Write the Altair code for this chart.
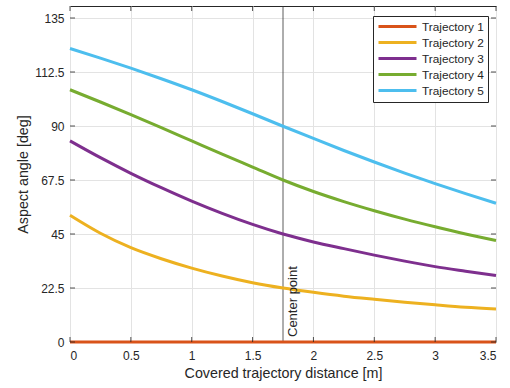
import altair as alt
import pandas as pd

# Covered distance along each trajectory [m]
distance = [0, 0.25, 0.5, 0.75, 1.0, 1.25, 1.5, 1.75, 2.0, 2.25, 2.5, 2.75, 3.0, 3.25, 3.5]

# Aspect angle [deg] for each trajectory
traj1 = [0, 0, 0, 0, 0, 0, 0, 0, 0, 0, 0, 0, 0, 0, 0]
traj2 = [52.8, 45.3, 39.3, 34.7, 30.8, 27.5, 24.7, 22.5, 20.7, 19.1, 17.8, 16.6, 15.5, 14.5, 13.8]
traj3 = [83.8, 76.8, 70.3, 64.3, 58.7, 53.6, 49.0, 45.0, 41.7, 38.9, 36.2, 33.7, 31.4, 29.5, 27.7]
traj4 = [105.1, 100.0, 94.7, 89.3, 83.8, 78.3, 72.9, 67.5, 62.7, 58.5, 54.7, 51.2, 48.0, 45.0, 42.3]
traj5 = [122.3, 118.3, 114.1, 109.7, 105.1, 100.2, 95.1, 89.9, 84.8, 79.8, 75.0, 70.4, 66.0, 61.8, 57.8]

names = ["Trajectory 1", "Trajectory 2", "Trajectory 3", "Trajectory 4", "Trajectory 5"]
colors = ["#D95319", "#EDB120", "#7E2F8E", "#77AC30", "#4DBEEE"]

x_ticks = [0, 0.5, 1, 1.5, 2, 2.5, 3, 3.5]
y_ticks = [0, 22.5, 45, 67.5, 90, 112.5, 135]

center_x = 1.75
center_label = "Center point"

W, H = 426, 336
FONT = "Liberation Sans"
INK = "#262626"

rows = []
for k, (name, series) in enumerate(zip(names, [traj1, traj2, traj3, traj4, traj5])):
    for d, a in zip(distance, series):
        rows.append({"x": d, "angle": a, "traj": name, "order": k})
df = pd.DataFrame(rows)

x_scale = alt.Scale(domain=[0, 3.5], nice=False, zero=False)
y_scale = alt.Scale(domain=[0, 140], nice=False, zero=False)

x_axis = alt.Axis(
    title="Covered trajectory distance [m]", values=x_ticks, labelExpr="'' + datum.value",
    grid=True, ticks=False, domain=False, labelPadding=8, titlePadding=5,
    titleFontWeight="normal",
)
y_axis = alt.Axis(
    title="Aspect angle [deg]", values=y_ticks, labelExpr="'' + datum.value",
    grid=True, ticks=False, domain=False, labelPadding=6, titlePadding=4,
    titleFontWeight="normal",
)

center_df = pd.DataFrame({"x": [center_x], "label": [center_label]})

center_line = alt.Chart(center_df).mark_rule(color="#333333", strokeWidth=0.8).encode(
    x=alt.X("x:Q", scale=x_scale, axis=x_axis),
    y=alt.value(0),
    y2=alt.value(H),
)

# legend swatch: a long horizontal stroke drawn to the right of a compact symbol slot
swatch = "M-1,0H6.6"

curves = alt.Chart(df).mark_line(strokeWidth=3, interpolate="monotone").encode(
    x=alt.X("x:Q", scale=x_scale, axis=x_axis),
    y=alt.Y("angle:Q", scale=y_scale, axis=y_axis),
    color=alt.Color(
        "traj:N",
        scale=alt.Scale(domain=names, range=colors),
        legend=alt.Legend(
            title=None, orient="none", legendX=303, legendY=10,
            symbolType=swatch, symbolSize=100, symbolStrokeWidth=3,
            labelFont=FONT, labelFontSize=11.8, labelColor=INK, labelOffset=32,
            padding=4, rowPadding=2, fillColor="white", strokeColor=INK,
            labelLimit=200,
        ),
    ),
    detail="order:O",
)

center_text = alt.Chart(center_df).mark_text(
    angle=270, align="left", baseline="alphabetic", dy=14,
    font=FONT, fontSize=13, color=INK,
).encode(
    x=alt.X("x:Q", scale=x_scale),
    y=alt.value(H - 5),
    text="label:N",
)

# inward tick marks on all four sides of the box
xt = pd.DataFrame({"x": x_ticks})
yt = pd.DataFrame({"angle": y_ticks})
tick_style = dict(color=INK, strokeWidth=0.8)
ticks_bottom = alt.Chart(xt).mark_rule(**tick_style).encode(
    x=alt.X("x:Q", scale=x_scale), y=alt.value(H), y2=alt.value(H - 5))
ticks_top = alt.Chart(xt).mark_rule(**tick_style).encode(
    x=alt.X("x:Q", scale=x_scale), y=alt.value(0), y2=alt.value(5))
ticks_left = alt.Chart(yt).mark_rule(**tick_style).encode(
    y=alt.Y("angle:Q", scale=y_scale), x=alt.value(0), x2=alt.value(5))
ticks_right = alt.Chart(yt).mark_rule(**tick_style).encode(
    y=alt.Y("angle:Q", scale=y_scale), x=alt.value(W), x2=alt.value(W - 5))

chart = alt.layer(
    center_line, curves, center_text, ticks_bottom, ticks_top, ticks_left, ticks_right
).properties(
    width=W, height=H,
    autosize=alt.AutoSizeParams(type="none"),
    padding={"left": 70, "top": 6, "right": 14, "bottom": 46},
).configure(
    background="white",
).configure_view(
    stroke=INK, strokeWidth=1, fill="white",
).configure_axis(
    gridColor="#e3e3e3", gridWidth=1, gridOpacity=1,
    labelFont=FONT, labelFontSize=12, labelColor=INK,
    titleFont=FONT, titleFontSize=14.3, titleColor=INK, titleFontWeight="normal",
)

chart.save("out.html", embed_options={"renderer": "svg", "actions": False})
